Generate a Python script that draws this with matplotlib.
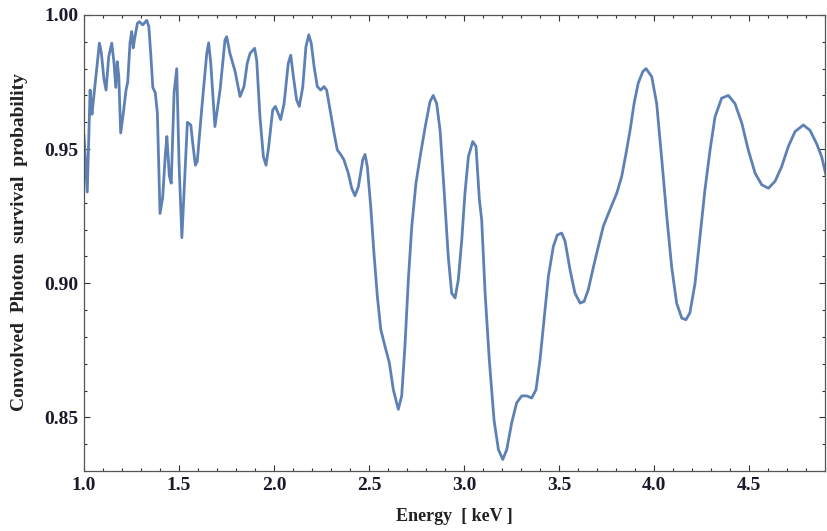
import matplotlib
matplotlib.use("Agg")
import matplotlib.pyplot as plt
from matplotlib.ticker import MultipleLocator

# values
energy = [1.000, 1.017, 1.032, 1.042, 1.049, 1.081, 1.091, 1.105, 1.116, 1.130,
          1.146, 1.158, 1.167, 1.175, 1.183, 1.193, 1.207, 1.221, 1.230, 1.242,
          1.251, 1.259, 1.267, 1.281, 1.291, 1.309, 1.330, 1.341, 1.351, 1.362,
          1.375, 1.386, 1.400, 1.414, 1.428, 1.436, 1.449, 1.459, 1.474, 1.488,
          1.500, 1.515, 1.544, 1.562, 1.572, 1.586, 1.596, 1.619, 1.646, 1.656,
          1.667, 1.689, 1.716, 1.742, 1.751, 1.768, 1.795, 1.821, 1.842, 1.859,
          1.874, 1.898, 1.909, 1.926, 1.944, 1.958, 1.972, 1.993, 2.007, 2.021,
          2.035, 2.053, 2.075, 2.088, 2.102, 2.119, 2.133, 2.151, 2.168, 2.183,
          2.196, 2.211, 2.228, 2.246, 2.263, 2.277, 2.295, 2.316, 2.333, 2.351,
          2.368, 2.391, 2.409, 2.426, 2.444, 2.467, 2.479, 2.491, 2.509, 2.526,
          2.544, 2.562, 2.584, 2.607, 2.628, 2.654, 2.672, 2.689, 2.707, 2.725,
          2.747, 2.772, 2.796, 2.821, 2.838, 2.856, 2.874, 2.895, 2.917, 2.935,
          2.953, 2.970, 2.988, 3.005, 3.023, 3.046, 3.063, 3.081, 3.093, 3.111,
          3.133, 3.158, 3.181, 3.204, 3.225, 3.251, 3.277, 3.304, 3.330, 3.356,
          3.379, 3.400, 3.421, 3.444, 3.470, 3.491, 3.514, 3.532, 3.558, 3.584,
          3.611, 3.632, 3.654, 3.681, 3.707, 3.733, 3.768, 3.804, 3.830, 3.853,
          3.874, 3.895, 3.917, 3.941, 3.958, 3.988, 4.014, 4.041, 4.067, 4.093,
          4.119, 4.146, 4.168, 4.189, 4.216, 4.242, 4.268, 4.295, 4.321, 4.356,
          4.391, 4.426, 4.462, 4.496, 4.532, 4.567, 4.602, 4.637, 4.672, 4.707,
          4.742, 4.786, 4.821, 4.856, 4.882, 4.905]
survival = [0.955, 0.934, 0.972, 0.963, 0.968, 0.9895, 0.986, 0.976, 0.972, 0.9845,
            0.9895, 0.982, 0.973, 0.9826, 0.977, 0.956, 0.9635, 0.972, 0.975, 0.9896,
            0.9938, 0.9877, 0.9914, 0.9969, 0.9975, 0.9963, 0.998, 0.9957, 0.9858, 0.973,
            0.971, 0.9635, 0.926, 0.932, 0.948, 0.9547, 0.940, 0.9373, 0.971, 0.980,
            0.945, 0.917, 0.960, 0.959, 0.9523, 0.944, 0.9454, 0.9646, 0.9857, 0.9896,
            0.9821, 0.9584, 0.972, 0.9907, 0.9919, 0.9857, 0.979, 0.9696, 0.9733, 0.982,
            0.9857, 0.9876, 0.983, 0.962, 0.9472, 0.944, 0.951, 0.9646, 0.9659, 0.9634,
            0.961, 0.967, 0.982, 0.985, 0.977, 0.9683, 0.9659, 0.973, 0.9882, 0.9926,
            0.9894, 0.9807, 0.9733, 0.972, 0.9733, 0.972, 0.9646, 0.956, 0.9497, 0.948,
            0.946, 0.941, 0.9354, 0.9326, 0.936, 0.946, 0.948, 0.9435, 0.9286, 0.9112,
            0.895, 0.8827, 0.8765, 0.8703, 0.8603, 0.853, 0.858, 0.8765, 0.9013, 0.9212,
            0.9373, 0.9485, 0.9584, 0.9677, 0.970, 0.967, 0.957, 0.9348, 0.910, 0.8963,
            0.8945, 0.9013, 0.916, 0.9336, 0.9472, 0.9528, 0.951, 0.931, 0.9236, 0.8963,
            0.8715, 0.849, 0.838, 0.8343, 0.838, 0.848, 0.8554, 0.858, 0.858, 0.8572,
            0.8603, 0.8715, 0.8864, 0.9025, 0.9137, 0.918, 0.9187, 0.9156, 0.905, 0.8963,
            0.8926, 0.8932, 0.8976, 0.906, 0.9137, 0.9212, 0.9274, 0.9336, 0.9398, 0.9485,
            0.957, 0.967, 0.9746, 0.9789, 0.980, 0.977, 0.967, 0.946, 0.925, 0.906,
            0.8926, 0.887, 0.8864, 0.889, 0.900, 0.9174, 0.9348, 0.9497, 0.962, 0.969,
            0.970, 0.967, 0.9597, 0.9497, 0.941, 0.9367, 0.9354, 0.938, 0.9435, 0.951,
            0.9565, 0.959, 0.957, 0.952, 0.9472, 0.9404]

xticks = [1.0, 1.5, 2.0, 2.5, 3.0, 3.5, 4.0, 4.5]
yticks = [0.85, 0.90, 0.95, 1.00]

plt.rcParams['font.family'] = ['Liberation Serif', 'DejaVu Serif']
plt.rcParams['font.weight'] = 'bold'

fig = plt.figure(figsize=(8.27, 5.31), dpi=100)
ax = fig.add_axes([0.1016, 0.113, 0.8960, 0.8588])

ax.plot(energy, survival, color='#5E81B5', lw=2.0, solid_joinstyle='round')

ax.set_xlim(1.0, 4.9)
ax.set_ylim(0.83, 1.0)
ax.set_xticks(xticks)
ax.set_xticklabels(['%.1f' % t for t in xticks])
ax.set_yticks(yticks)
ax.set_yticklabels(['%.2f' % t for t in yticks])
ax.xaxis.set_minor_locator(MultipleLocator(0.1))
ax.yaxis.set_minor_locator(MultipleLocator(0.01))

ax.tick_params(which='both', direction='in', top=True, right=True,
               width=0.8, color='#333333')
ax.tick_params(which='major', length=4.2, labelsize=14, pad=4)
ax.tick_params(which='minor', length=2.2)
for lab in ax.get_xticklabels() + ax.get_yticklabels():
    lab.set_fontweight('bold')
    lab.set_color('#1a1a2a')
for s in ax.spines.values():
    s.set_color('#555555')
    s.set_linewidth(0.9)

fig.text(0.5496, 0.027, 'Energy  [ keV ]', ha='center', va='center',
         fontsize=13, fontweight='bold', color='#222222')
fig.text(0.024, 0.545, 'Convolved  Photon  survival  probability', rotation=90,
         ha='center', va='center', fontsize=14, fontweight='bold', color='#222222')

plt.savefig('out.png', dpi=100)
